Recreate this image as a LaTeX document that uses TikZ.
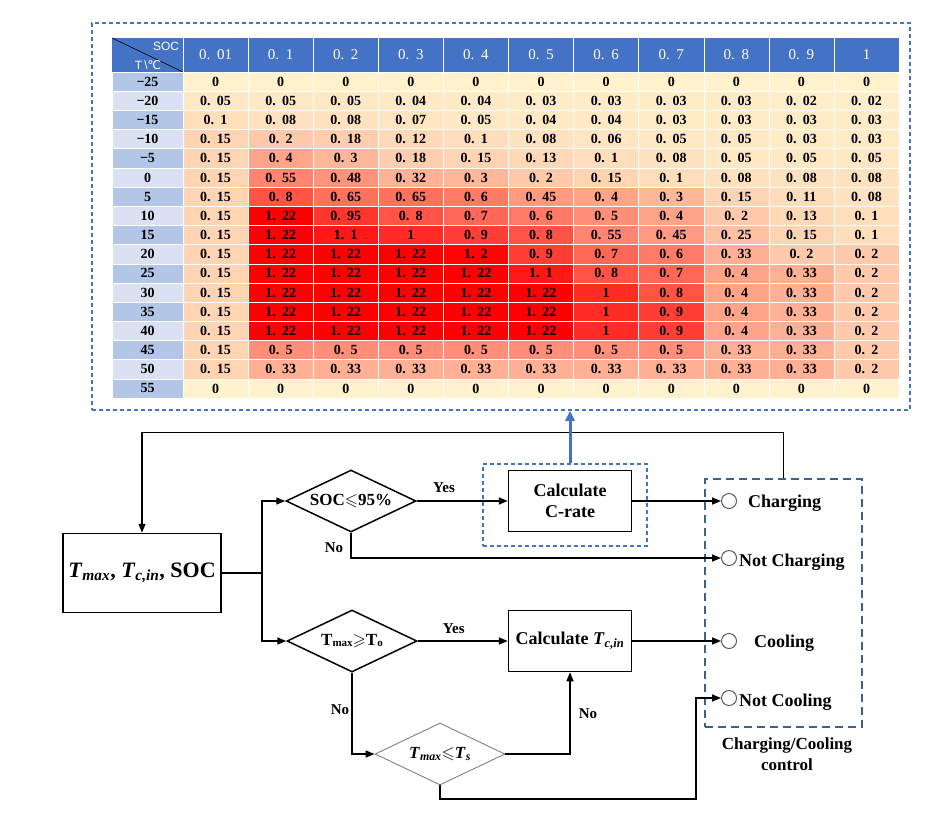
\documentclass[tikz,border=0pt]{standalone}
\usepackage{fontspec}
\setmainfont{Liberation Serif}
\setsansfont{Liberation Sans}
\newfontfamily\dejavu{DejaVu Sans}
\usepackage{amssymb}
\usepackage{xstring}
\usetikzlibrary{arrows.meta}
\usetikzlibrary{positioning}
\usetikzlibrary{shapes.geometric}
\usetikzlibrary{calc}

\definecolor{hdrblue}{HTML}{4472C4}
\definecolor{rowdark}{HTML}{B4C6E7}
\definecolor{rowlight}{HTML}{D9E1F2}
\definecolor{cellbase}{HTML}{FFF2CC}
\definecolor{ctrldash}{HTML}{41608F}
\newcommand\cellfmt[1]{\StrSubstitute{#1}{.}{.\kern.45em}}

\begin{document}
\begin{tikzpicture}[x=1pt,y=-1pt,
  procbox/.style={draw, line width=1.5pt, minimum width=123pt, minimum height=61pt, align=center, inner sep=2pt, font=\bfseries\fontsize{18}{21}\selectfont},
  decision/.style={diamond, draw, line width=1.5pt, aspect=2.1, inner sep=0pt, minimum width=130pt, minimum height=62pt, font=\bfseries\fontsize{17}{19}\selectfont},
  conn/.style={line width=1.5pt, -{Triangle[length=9pt,width=7pt]}},
  yesno/.style={font=\bfseries\fontsize{15}{17}\selectfont},
  outlet/.style={circle, draw=black!65, line width=1pt, fill=white, minimum size=15pt, inner sep=0pt},
  outtxt/.style={font=\bfseries\fontsize{18}{20}\selectfont, anchor=west, inner sep=0pt},
  cellnum/.style={font=\bfseries\fontsize{14}{14}\selectfont, inner sep=0pt},
  hdrnum/.style={font=\fontsize{15}{15}\selectfont, inner sep=0pt, text=white},
  bluedash/.style={draw=hdrblue, line width=1.5pt, dash pattern=on 4pt off 3pt}]
  \useasboundingbox (0,0) rectangle (952,814);

  % lookup table
  \node[bluedash, minimum width=818pt, minimum height=387pt] (tbl) at (501,216.5) {};
  \fill[hdrblue] (112,38) rectangle (899,72);
  \draw[line width=0.6pt] (112,38) -- (183,72);
  \node[font=\sffamily\fontsize{12}{12}\selectfont, text=white, inner sep=0pt] (soc) at (166,46) {SOC};
  \node[font=\sffamily\fontsize{12}{12}\selectfont, text=white, inner sep=0pt] (tdeg) at (148,65) {T\,\textbackslash{\dejavu ℃}};
  \foreach \s [count=\j] in {0.01,0.1,0.2,0.3,0.4,0.5,0.6,0.7,0.8,0.9,1}{
    \draw[white, line width=0.6pt] ({183+(\j-1)*65.1},38) -- ++(0,34);
    \node[hdrnum] (h-\j) at ({183+(\j-0.5)*65.1},55) {\cellfmt{\s}};
  }
  \foreach \vals [count=\i] in {
    {0,0,0,0,0,0,0,0,0,0,0},
    {0.05,0.05,0.05,0.04,0.04,0.03,0.03,0.03,0.03,0.02,0.02},
    {0.1,0.08,0.08,0.07,0.05,0.04,0.04,0.03,0.03,0.03,0.03},
    {0.15,0.2,0.18,0.12,0.1,0.08,0.06,0.05,0.05,0.03,0.03},
    {0.15,0.4,0.3,0.18,0.15,0.13,0.1,0.08,0.05,0.05,0.05},
    {0.15,0.55,0.48,0.32,0.3,0.2,0.15,0.1,0.08,0.08,0.08},
    {0.15,0.8,0.65,0.65,0.6,0.45,0.4,0.3,0.15,0.11,0.08},
    {0.15,1.22,0.95,0.8,0.7,0.6,0.5,0.4,0.2,0.13,0.1},
    {0.15,1.22,1.1,1,0.9,0.8,0.55,0.45,0.25,0.15,0.1},
    {0.15,1.22,1.22,1.22,1.2,0.9,0.7,0.6,0.33,0.2,0.2},
    {0.15,1.22,1.22,1.22,1.22,1.1,0.8,0.7,0.4,0.33,0.2},
    {0.15,1.22,1.22,1.22,1.22,1.22,1,0.8,0.4,0.33,0.2},
    {0.15,1.22,1.22,1.22,1.22,1.22,1,0.9,0.4,0.33,0.2},
    {0.15,1.22,1.22,1.22,1.22,1.22,1,0.9,0.4,0.33,0.2},
    {0.15,0.5,0.5,0.5,0.5,0.5,0.5,0.5,0.33,0.33,0.2},
    {0.15,0.33,0.33,0.33,0.33,0.33,0.33,0.33,0.33,0.33,0.2},
    {0,0,0,0,0,0,0,0,0,0,0}}{
    \pgfmathtruncatemacro\tl{-30+5*\i}
    \ifodd\i \def\rowcol{rowdark}\else \def\rowcol{rowlight}\fi
    \fill[\rowcol, draw=white, line width=0.6pt] (112,{72+(\i-1)*19.18}) rectangle (183,{72+\i*19.18});
    \node[cellnum] (t-\i) at (147.5,{72+(\i-0.5)*19.18}) {\ifnum\tl<0 −\the\numexpr-\tl\relax\else\tl\fi};
    \foreach \v [count=\j] in \vals {
      \pgfmathsetmacro\f{100*\v/1.22}
      \fill[red!\f!cellbase, draw=white, line width=0.6pt] ({183+(\j-1)*65.1},{72+(\i-1)*19.18}) rectangle ({183+\j*65.1},{72+\i*19.18});
      \node[cellnum] (c-\i-\j) at ({183+(\j-0.5)*65.1},{72+(\i-0.5)*19.18}) {\cellfmt{\v}};
    }
  }

  % flow chart
  \node[procbox, minimum width=158pt, minimum height=79pt, font=\bfseries\fontsize{22}{24}\selectfont] (input) at (142,573)
    {\textit{T}\textsubscript{\textit{max}}, \textit{T}\textsubscript{\textit{c,in}}, SOC};
  \node[decision] (socdec) at (351,501) {SOC$\leqslant$95\%};
  \node[procbox] (crate) at (570,501) {Calculate\\C-rate};
  \node[bluedash, minimum width=164pt, minimum height=82pt] (cratebox) at (565,505) {};
  \node[decision] (tmaxdec) at (352,641) {T\raisebox{-1.5pt}{\fontsize{11}{11}\selectfont max}$\geqslant$T\raisebox{-1.5pt}{\fontsize{11}{11}\selectfont o}};
  \node[procbox] (tcin) at (570,641) {Calculate \textit{T}\textsubscript{\textit{c,in}}};
  \node[decision, draw=gray, line width=0.9pt] (tsdec) at (440,754) {\textit{T}\textsubscript{\textit{max}}$\leqslant$\textit{T}\textsubscript{\textit{s}}};

  % control outputs
  \node[draw=ctrldash, line width=1.3pt, dash pattern=on 8pt off 5pt, minimum width=157pt, minimum height=248pt] (ctrl) at (783.5,603) {};
  \node[outlet] (chg) at (729,501) {};
  \node[outlet] (nchg) at (729,558) {};
  \node[outlet] (cool) at (729,641) {};
  \node[outlet] (ncool) at (729,698) {};
  \node[outtxt] (chgtxt) at (748,503) {Charging};
  \node[outtxt] (nchgtxt) at (739,562) {Not Charging};
  \node[outtxt] (cooltxt) at (754,643) {Cooling};
  \node[outtxt] (ncooltxt) at (739,702) {Not Cooling};
  \node[font=\bfseries\fontsize{17}{21}\selectfont, align=center] (ctrllbl) at (787,754) {Charging/Cooling\\control};

  % connectors
  \coordinate (split) at (262,573);
  \coordinate (turn) at (696,799);
  \draw[line width=1.5pt] (input.east) -- (split);
  \draw[conn] (split) |- (socdec.west);
  \draw[conn] (split) |- (tmaxdec.west);
  \draw[conn] (socdec.east) -- (crate.west) node[yesno, pos=0.3, above=4pt] (yes1) {Yes};
  \draw[conn] (socdec.south) |- (nchg.west);
  \node[yesno] (no1) at (334,548) {No};
  \draw[conn] (crate.east) -- (chg.west);
  \draw[conn] (tmaxdec.east) -- (tcin.west) node[yesno, pos=0.4, above=3pt] (yes2) {Yes};
  \draw[conn] (tcin.east) -- (cool.west);
  \draw[conn] (tmaxdec.south) |- (tsdec.west);
  \node[yesno] (no2) at (340,710) {No};
  \draw[conn] (tsdec.east) -| (tcin.south);
  \node[yesno] (no3) at (588,714) {No};
  \draw[conn] (tsdec.south) |- (turn) |- (ncool.west);
  \draw[conn] (ctrl.north) -- ++(0,-46) -| (input.north);
  \draw[line width=3pt, hdrblue, -{Triangle[length=10pt,width=9pt]}] (cratebox.north -| crate.north) -- (tbl.south -| crate.north);
\end{tikzpicture}
\end{document}
